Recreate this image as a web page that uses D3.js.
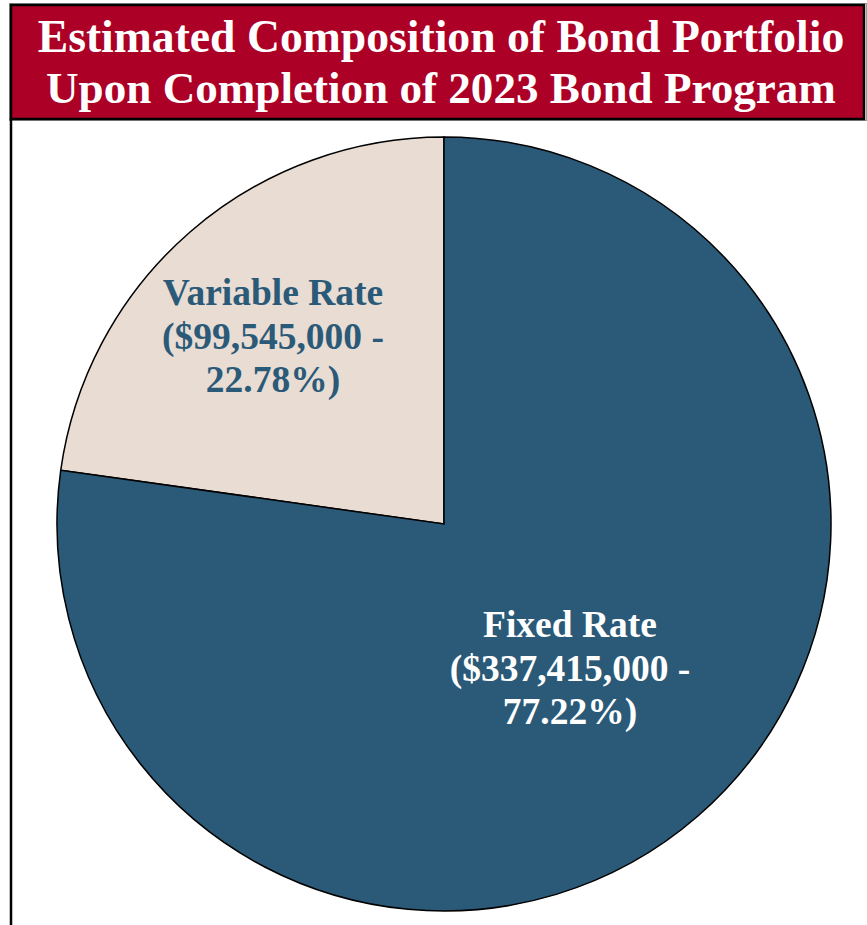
<!DOCTYPE html>
<html>
  <head>
    <meta charset="UTF-8">
    <script src="https://cdn.jsdelivr.net/npm/d3@7"></script>
    <style>
      body { margin: 0; background: #fff; }
      text { font-family: "Liberation Serif", "DejaVu Serif", serif; font-weight: bold; }
    </style>
  </head>
  <body>
    <svg width="867" height="925"></svg>

    <script type="text/javascript">
      // Chart data
      var titleLines = ['Estimated Composition of Bond Portfolio', 'Upon Completion of 2023 Bond Program'];
      var categories = ['Variable Rate', 'Fixed Rate'];
      var amounts = [99545000, 337415000];
      var percents = ['22.78%', '77.22%'];

      var svg = d3.select('svg');

      // Title banner
      svg.append('rect')
        .attr('x', 9.5).attr('y', 3.5).attr('width', 857).attr('height', 117)
        .attr('fill', 'none').attr('stroke', '#999').attr('stroke-width', 1);
      svg.append('rect')
        .attr('x', 11).attr('y', 5).attr('width', 853).attr('height', 114)
        .attr('fill', '#ad0026').attr('stroke', '#000').attr('stroke-width', 2.5);
      // left frame line
      svg.append('line')
        .attr('x1', 11).attr('y1', 118).attr('x2', 11).attr('y2', 925)
        .attr('stroke', '#000').attr('stroke-width', 2.5);

      var titleWidths = [807, 790];
      svg.selectAll('text.title').data(titleLines).enter()
        .append('text')
        .attr('class', 'title')
        .attr('x', 441)
        .attr('y', function(d, i) { return 52 + i * 51; })
        .attr('text-anchor', 'middle')
        .attr('fill', '#fff')
        .style('font-size', '40px')
        .text(function(d) { return d; })
        .each(function(d, i) {
          var w = this.getComputedTextLength();
          d3.select(this).style('font-size', (40 * titleWidths[i] / w) + 'px');
        });

      // Pie, first slice runs counter-clockwise from 12 o'clock
      var cx = 444, cy = 524, r = 387;
      var data = categories.map(function(c, i) {
        return { name: c, value: amounts[i], pct: percents[i] };
      });

      var pie = d3.pie()
        .sort(null)
        .value(function(d) { return d.value; })
        .startAngle(0)
        .endAngle(-2 * Math.PI);
      var arc = d3.arc().innerRadius(0).outerRadius(r);
      var colors = d3.scaleOrdinal().domain(categories).range(['#e8dcd3', '#2b5a78']);
      var textColors = d3.scaleOrdinal().domain(categories).range(['#2b5a78', '#ffffff']);

      var g = svg.append('g').attr('transform', 'translate(' + cx + ',' + cy + ')');
      var arcs = pie(data);

      g.selectAll('path').data(arcs).enter()
        .append('path')
        .attr('d', arc)
        .attr('fill', function(d) { return colors(d.data.name); })
        .attr('stroke', '#000')
        .attr('stroke-width', 1.5)
        .attr('stroke-linejoin', 'miter');

      // Labels
      var fmt = d3.format(',');
      var labelPos = { 'Variable Rate': [-171, -219], 'Fixed Rate': [126, 113] };
      var labels = g.selectAll('text.label').data(arcs).enter()
        .append('text')
        .attr('class', 'label')
        .attr('text-anchor', 'middle')
        .attr('fill', function(d) { return textColors(d.data.name); })
        .style('font-size', '37.5px');

      labels.each(function(d) {
        var p = labelPos[d.data.name];
        var lines = [d.data.name, '($' + fmt(d.data.value) + ' -', d.data.pct + ')'];
        d3.select(this).selectAll('tspan').data(lines).enter()
          .append('tspan')
          .attr('x', p[0])
          .attr('y', function(t, i) { return p[1] + i * 43.5; })
          .text(function(t) { return t; });
      });
    </script>
  </body>
</html>
